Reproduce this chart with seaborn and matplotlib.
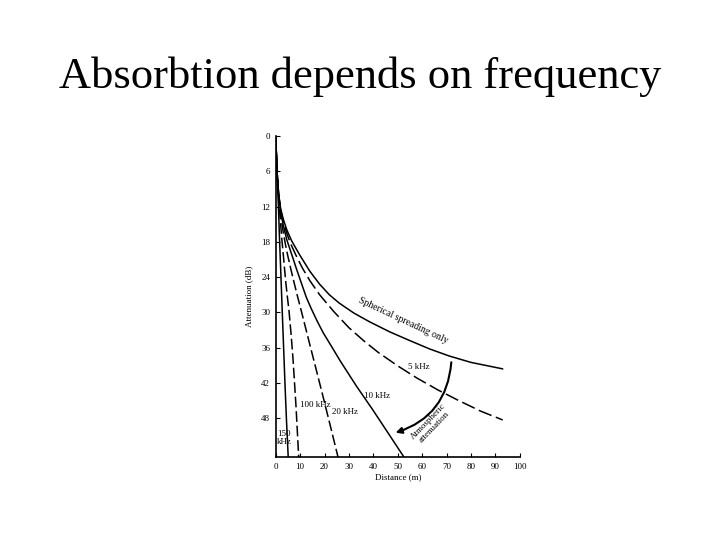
import matplotlib
matplotlib.use("Agg")
import matplotlib.pyplot as plt
import seaborn as sns
import pandas as pd

# distances (m) and attenuation (dB)
sph_d = [0, 0.25, 0.6, 1.2, 2, 3, 4.5, 6.5, 9.8, 14, 18, 22, 26, 32, 38.5, 46.7, 55, 63, 71, 80, 93]
sph_a = [0, 3, 6.5, 10, 12.3, 14, 15.9, 17.8, 20.2, 23, 25.2, 27, 28.4, 30.1, 31.6, 33.3, 34.8, 36.2, 37.4, 38.5, 39.6]

k5_d = [0, 0.25, 0.6, 1.2, 2, 3, 4.5, 6, 8.2, 11, 14, 18, 23.9, 30, 36, 42, 50, 58, 66.5, 75, 84, 93]
k5_a = [0, 3, 6.5, 10, 12.5, 14.4, 16.5, 18.2, 20.2, 22.5, 24.6, 27, 29.9, 32.6, 34.8, 36.8, 39.1, 41.2, 43.2, 45, 46.8, 48.3]

k10_d = [0, 0.25, 0.6, 1.2, 2, 3, 4.5, 6.6, 8.5, 10.5, 12.5, 14.6, 17, 19.5, 22, 26.5, 33, 39.8, 46, 52.5]
k10_a = [0, 3, 6.5, 10, 12.8, 15, 17.6, 20.2, 22.6, 25, 27.4, 29.4, 31.5, 33.5, 35.2, 38.3, 42.5, 46.6, 50.5, 54.6]

k20_d = [0, 0.25, 0.6, 1.2, 2, 3, 4, 4.9, 6, 7.5, 9, 10.5, 13, 16, 19, 22, 25.5]
k20_a = [0, 3, 6.5, 10, 13.3, 16.2, 18.5, 20.3, 22.3, 24.9, 27.4, 29.8, 33.9, 38.8, 43.7, 48.7, 54.6]

k100_d = [0, 0.25, 0.6, 1.2, 2, 2.5, 3.1, 3.6, 4.2, 4.8, 5.4, 6.3, 7.1, 8.3, 9.4]
k100_a = [0, 3, 6.5, 10.5, 15, 17.6, 20.2, 22.6, 25.2, 27.5, 29.6, 33.8, 38.1, 46, 54.6]

k150_d = [0, 0.3, 0.7, 1.1, 1.5, 2.0, 2.6, 3.2, 3.8, 4.4, 5.1]
k150_a = [0, 4, 8, 12, 17, 22.5, 29.2, 35.8, 42.4, 48.4, 54.6]

x_ticks = [0, 10, 20, 30, 40, 50, 60, 70, 80, 90, 100]
y_ticks = [0, 6, 12, 18, 24, 30, 36, 42, 48]

curves = [
    (sph_d, sph_a, "-"),
    (k5_d, k5_a, (0, (9, 3))),
    (k10_d, k10_a, "-"),
    (k20_d, k20_a, (0, (7, 2.5))),
    (k100_d, k100_a, (0, (7, 2.5))),
    (k150_d, k150_a, "-"),
]

sns.set_style("ticks")
serif = ["Liberation Serif", "DejaVu Serif"]
plt.rcParams["font.family"] = serif
plt.rcParams["text.color"] = "black"
plt.rcParams["axes.labelcolor"] = "black"
plt.rcParams["xtick.color"] = "black"
plt.rcParams["ytick.color"] = "black"

fig = plt.figure(figsize=(7.2, 5.4), dpi=100)
fig.text(0.5, 0.858, "Absorbtion depends on frequency", ha="center", va="center",
         fontsize=32, family=serif, color="black")

ax = fig.add_axes([0.383, 0.1537, 0.339, 0.594])
for d, a, ls in curves:
    df = pd.DataFrame({"d": d, "a": a})
    sns.lineplot(data=df, x="d", y="a", ax=ax, color="black", lw=1.1,
                 linestyle=ls, sort=False, estimator=None)

ax.set_xlim(0, 100)
ax.set_ylim(54.6, 0)
ax.set_xticks(x_ticks)
ax.set_yticks(y_ticks)
ax.tick_params(direction="in", length=3, width=0.8, labelsize=6.5, pad=4)
for s in ["top", "right"]:
    ax.spines[s].set_visible(False)
for s in ["left", "bottom"]:
    ax.spines[s].set_linewidth(1.2)
    ax.spines[s].set_color("black")
ax.set_xlabel("Distance (m)", fontsize=6.5, labelpad=2)
ax.set_ylabel("Attenuation (dB)", fontsize=6.5, labelpad=6)

# curve labels
ax.text(52, 31.3, "Spherical spreading only", fontsize=7, rotation=-25,
        ha="center", va="center")
ax.text(58.5, 39.2, "5 kHz", fontsize=6.5, ha="center", va="center")
ax.text(41.5, 44.2, "10 kHz", fontsize=6.5, ha="center", va="center")
ax.text(28.5, 46.9, "20 kHz", fontsize=6.5, ha="center", va="center")
ax.text(16, 45.7, "100 kHz", fontsize=6.5, ha="center", va="center")
ax.text(0.4, 51.3, "150\nkHz", fontsize=6.5, ha="left", va="center", linespacing=1.0)
ax.text(63.5, 49.0, "Atmospheric\nattenuation", fontsize=6.5, rotation=46,
        ha="center", va="center", linespacing=1.0)
ax.annotate("", xy=(48, 50.6), xytext=(72, 38),
            arrowprops=dict(arrowstyle="-|>", color="black", lw=1.5,
                            connectionstyle="arc3,rad=-0.35", mutation_scale=9))

fig.savefig("out.png", dpi=100)
